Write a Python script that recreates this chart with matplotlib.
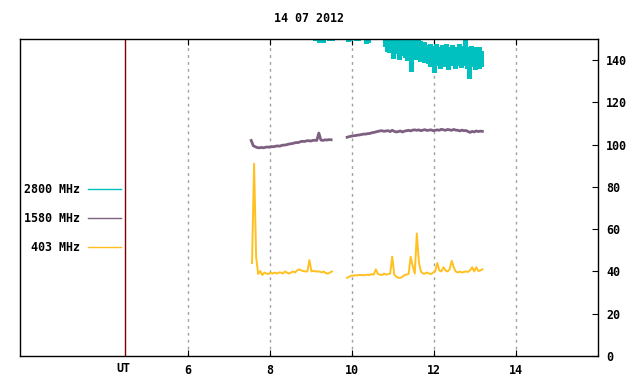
import numpy as np
import matplotlib
matplotlib.use("Agg")
import matplotlib.pyplot as plt
from matplotlib.lines import Line2D
from matplotlib.transforms import blended_transform_factory

plt.rcParams['font.family'] = ['DejaVu Sans Mono']
plt.rcParams['font.weight'] = 'bold'
plt.rcParams['font.size'] = 8.4

title = '14 07 2012'
ut_hour = 4.46
step = 0.05

# 403 MHz, two pieces
f403_a_start = 7.56
f403_a = [44.0, 91.0, 47.0, 38.8, 40.2, 38.3, 39.5, 39.0, 38.8, 39.5,
          39.0, 39.5, 39.0, 39.5, 39.5, 39.0, 40.0, 39.5, 39.0, 39.5,
          40.0, 39.5, 40.5, 41.0, 40.5, 40.2, 40.0, 40.0, 45.4, 40.0,
          40.3, 40.0, 40.0, 40.0, 39.5, 40.0, 39.2, 39.0, 39.5, 40.0]
f403_b_start = 9.88
f403_b = [37.0, 37.5, 38.0, 38.0, 38.2, 38.2, 38.3, 38.3, 38.2, 38.3,
          38.5, 38.3, 38.8, 38.5, 41.0, 38.8, 38.5, 38.3, 39.0, 38.5,
          38.8, 39.0, 47.0, 38.5, 37.5, 37.0, 37.0, 37.5, 38.3, 38.5,
          38.8, 47.0, 42.5, 39.0, 58.0, 44.5, 40.0, 39.0, 39.0, 39.5,
          39.0, 38.8, 39.5, 40.2, 44.0, 40.5, 40.0, 42.0, 40.5, 40.0,
          41.0, 45.0, 42.0, 40.0, 39.5, 40.0, 39.5, 39.8, 40.0, 39.8,
          40.5, 42.0, 40.0, 42.0, 40.2, 40.5, 41.0]

# 1580 MHz, two pieces
f1580_a_start = 7.54
f1580_a = [102.0, 99.5, 99.0, 98.6, 98.5, 98.7, 98.5, 98.8, 98.9, 98.8,
           99.1, 99.0, 99.3, 99.4, 99.3, 99.7, 99.8, 99.9, 100.2, 100.4,
           100.5, 100.8, 101.0, 101.0, 101.4, 101.6, 101.5, 101.8, 101.9, 101.7,
           102.0, 102.1, 102.0, 105.5, 102.2, 102.0, 102.3, 102.2, 102.4, 102.3]
f1580_b_start = 9.88
f1580_b = [103.5, 103.8, 104.0, 104.2, 104.3, 104.5, 104.6, 104.8, 105.0, 105.0,
           105.2, 105.3, 105.6, 105.8, 106.0, 106.3, 106.5, 106.6, 106.3, 106.5,
           106.6, 106.2, 106.8, 106.3, 106.0, 106.2, 106.5, 106.0, 106.4, 106.6,
           106.8, 106.5, 106.9, 107.0, 106.8, 107.0, 106.6, 106.9, 107.1, 106.7,
           106.9, 107.0, 106.6, 106.8, 107.0, 106.8, 107.3, 107.0, 106.8, 107.2,
           107.0, 106.8, 107.2, 106.9, 106.8, 106.5, 106.9, 106.6, 106.7, 106.2,
           105.8, 106.3, 106.0, 106.5, 106.2, 106.4, 106.3]

# 2800 MHz, min / max per time bin (mostly off the top before 10.8 UT)
f2800_start = 9.10
f2800_low = [149.3, 149.5, 148.8, 149.2, 148.7, 151.0, 151.0, 149.3, 149.5, 151.0,
             152.0, 152.0, 152.0, 152.0, 152.0, 151.0, 149.0, 149.4, 151.0, 151.0,
             149.6, 149.5, 151.0, 152.0, 152.0, 148.3, 148.8, 151.0, 152.0, 152.0,
             152.0, 152.0, 152.0, 152.0, 146.5, 144.5, 143.8, 144.2, 141.0, 143.5,
             144.0, 140.5, 143.0, 142.5, 141.5, 140.0, 142.0, 135.0, 141.0, 140.5,
             141.5, 139.5, 140.5, 139.0, 139.5, 138.5, 137.0, 138.5, 134.5, 138.0,
             137.5, 136.5, 138.0, 137.0, 138.5, 136.0, 137.5, 138.0, 136.5, 137.5,
             138.0, 136.8, 137.5, 138.0, 136.5, 131.5, 137.0, 137.5, 136.0, 137.0,
             136.5, 137.0]
f2800_high = [155.0] * 51 + [
             149.0, 148.0, 148.5, 147.0, 146.5, 147.5, 146.0, 146.5, 147.5, 146.0,
             145.5, 147.0, 146.5, 147.5, 146.0, 145.5, 147.0, 146.0, 145.5, 147.5,
             146.5, 146.0, 150.0, 146.0, 145.5, 146.5, 145.0, 146.0, 145.5, 146.0,
             144.5]

c2800 = '#00c0c0'
c1580 = '#7d5f80'
c403 = '#ffc020'


def hours(start, vals):
    return start + step * np.arange(len(vals))


fig = plt.figure(figsize=(6.4, 3.84), dpi=100)
ax = fig.add_axes([20 / 640, 28 / 384, 578 / 640, 317 / 384])

t = hours(f2800_start, f2800_low)
ax.vlines(t, f2800_low, f2800_high, color=c2800, lw=2.3, antialiased=False)
for start, vals in [(f1580_a_start, f1580_a), (f1580_b_start, f1580_b)]:
    ax.plot(hours(start, vals), vals, color=c1580, lw=2.0)
for start, vals in [(f403_a_start, f403_a), (f403_b_start, f403_b)]:
    ax.plot(hours(start, vals), vals, color=c403, lw=1.4)

ax.axvline(ut_hour, color='#800000', lw=1)
tr = blended_transform_factory(ax.transData, ax.transAxes)
ax.text(ut_hour - 0.05, -0.04, 'UT', transform=tr, ha='center', va='center')

ax.set_xlim(1.9, 16)
ax.set_ylim(0, 150)
ax.set_xticks([6, 8, 10, 12, 14])
ax.set_yticks(range(0, 141, 20))
ax.yaxis.tick_right()
ax.tick_params(axis='x', direction='in', top=True, bottom=True, length=4, pad=6)
ax.tick_params(axis='y', direction='in', left=False, right=True, length=4, pad=6)
ax.grid(axis='x', color='#a0a0a0', linestyle=(0, (2, 3)), lw=1)
for s in ax.spines.values():
    s.set_linewidth(1)

handles = [Line2D([], [], color=c2800, lw=1),
           Line2D([], [], color=c1580, lw=1),
           Line2D([], [], color=c403, lw=1)]
ax.legend(handles, ['2800 MHz', '1580 MHz', '403 MHz'], loc='center right',
          bbox_to_anchor=(0.175, 0.434), frameon=False, markerfirst=False,
          handlelength=2.85, handletextpad=0.7, labelspacing=1.35,
          borderpad=0, borderaxespad=0)

ax.set_title(title, pad=12, fontsize=8.4, fontweight='bold')

fig.savefig('out.png', dpi=100)
